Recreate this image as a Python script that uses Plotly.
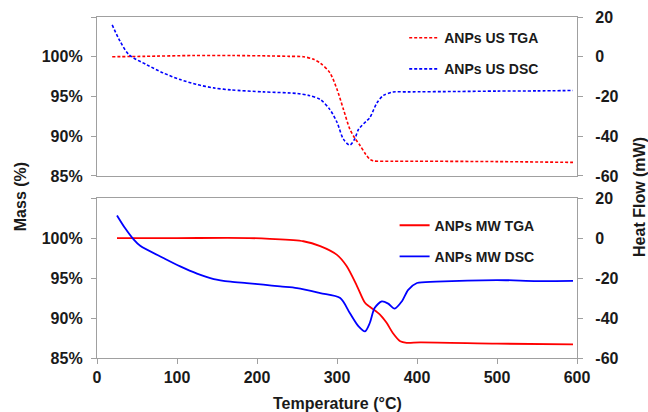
import plotly.graph_objects as go

# ---- data ----
us_tga_T = [19, 60, 120, 170, 216, 240, 258, 270, 279, 291, 300, 308, 316, 322, 329, 336, 341, 345, 370, 400, 500, 595]
us_tga_m = [100.0, 100.05, 100.15, 100.15, 100.1, 100.05, 100.0, 99.7, 99.2, 98.0, 95.9, 93.4, 90.9, 89.8, 88.8, 87.7, 87.1, 86.9, 86.85, 86.85, 86.8, 86.7]

us_dsc_T = [19, 29, 40, 62, 83, 104, 125, 146, 167, 208, 250, 265, 279, 291, 300, 308, 316, 322, 327, 337, 341, 350, 358, 370, 389, 450, 500, 550, 595]
us_dsc_h = [16, 7.7, 1, -4, -8.2, -11.5, -14, -15.7, -16.7, -17.7, -18.5, -19.5, -21.5, -26.5, -33, -41.5, -44.5, -41.5, -36.5, -32.3, -30.7, -23.2, -19.5, -17.8, -17.7, -17.5, -17.3, -17.2, -17.0]

mw_tga_T = [25, 100, 190, 216, 258, 279, 300, 312, 325, 335, 341, 354, 362, 370, 379, 387, 404, 500, 595]
mw_tga_m = [100.0, 100.0, 100.0, 99.9, 99.6, 99.0, 97.9, 96.5, 94.0, 91.9, 91.4, 90.4, 89.4, 88.1, 87.1, 86.9, 86.95, 86.8, 86.7]

mw_dsc_T = [25, 35, 46, 54, 83, 104, 125, 146, 167, 187, 208, 229, 250, 279, 304, 316, 327, 335, 341, 347, 356, 364, 372, 381, 389, 400, 424, 500, 550, 595]
mw_dsc_h = [11.3, 5, -0.8, -3.9, -10, -14.2, -17.8, -20.5, -21.8, -22.5, -23.3, -24.2, -25, -27.5, -30, -37.5, -44.2, -46.7, -42.5, -35, -31.7, -32.8, -35.3, -31.7, -25.9, -22.5, -21.8, -21.0, -21.5, -21.4]

mass_ticks = [85, 90, 95, 100, 105]
mass_labels = ["85%", "90%", "95%", "100%", ""]
heat_ticks = [-60, -40, -20, 0, 20]
temp_ticks = [0, 100, 200, 300, 400, 500, 600]

RED = "#FF0000"
BLUE = "#0000FF"
GRID = "#A0A0A0"
FONT = dict(family="Liberation Sans, Arial, sans-serif", size=16, color="#1A1A1A")

fig = go.Figure()
fig.add_trace(go.Scatter(x=us_tga_T, y=us_tga_m, mode="lines", name="<b>ANPs US TGA</b>",
                         line=dict(color=RED, width=1.6, dash="3px,2px", shape="spline", smoothing=0.8),
                         xaxis="x", yaxis="y", legend="legend", legendgroup="a"))
fig.add_trace(go.Scatter(x=us_dsc_T, y=us_dsc_h, mode="lines", name="<b>ANPs US DSC</b>",
                         line=dict(color=BLUE, width=1.6, dash="3px,2px", shape="spline", smoothing=0.8),
                         xaxis="x", yaxis="y2", legend="legend", legendgroup="b"))
fig.add_trace(go.Scatter(x=mw_tga_T, y=mw_tga_m, mode="lines", name="<b>ANPs MW TGA</b>",
                         line=dict(color=RED, width=1.8, shape="spline", smoothing=0.8),
                         xaxis="x2", yaxis="y3", legend="legend2", legendgroup="c"))
fig.add_trace(go.Scatter(x=mw_dsc_T, y=mw_dsc_h, mode="lines", name="<b>ANPs MW DSC</b>",
                         line=dict(color=BLUE, width=1.8, shape="spline", smoothing=0.8),
                         xaxis="x2", yaxis="y4", legend="legend2", legendgroup="d"))

top_dom = [0.534, 1.0]
bot_dom = [0.0, 0.469]

ax_common = dict(showline=True, linecolor=GRID, linewidth=1.3, showgrid=False, zeroline=False,
                 tickfont=dict(FONT, size=16), ticklen=5, tickcolor=GRID, automargin=False)

mass_ax = dict(ax_common, range=[85, 105], tickmode="array", tickvals=mass_ticks,
               ticktext=["<b>%s</b>" % t for t in mass_labels], ticks="outside", ticklabelstandoff=5)
heat_ax = dict(ax_common, range=[-60, 20], tickmode="array", tickvals=heat_ticks,
               ticktext=["<b>%d</b>" % t for t in heat_ticks], ticks="outside", side="right",
               ticklabelstandoff=9)

fig.update_layout(
    width=648, height=412,
    margin=dict(l=97, r=71, t=17, b=54, autoexpand=False),
    paper_bgcolor="white", plot_bgcolor="white",
    font=FONT,
    xaxis=dict(ax_common, domain=[0, 1], anchor="y", range=[0, 600], showticklabels=False,
               ticks="", mirror=True),
    xaxis2=dict(ax_common, domain=[0, 1], anchor="y3", range=[0, 600], tickmode="array",
                tickvals=temp_ticks, ticktext=["<b>%d</b>" % t for t in temp_ticks],
                ticks="outside", mirror=True),
    yaxis=dict(mass_ax, domain=top_dom, anchor="x"),
    yaxis2=dict(heat_ax, domain=top_dom, anchor="x", overlaying="y"),
    yaxis3=dict(mass_ax, domain=bot_dom, anchor="x2"),
    yaxis4=dict(heat_ax, domain=bot_dom, anchor="x2", overlaying="y3"),
    legend=dict(x=0.64, y=0.985, xanchor="left", yanchor="top", bgcolor="rgba(0,0,0,0)",
                font=dict(FONT, size=14), tracegroupgap=10, itemwidth=30),
    legend2=dict(x=0.62, y=0.435, xanchor="left", yanchor="top", bgcolor="rgba(0,0,0,0)",
                 font=dict(FONT, size=14), tracegroupgap=10, itemwidth=30),
    annotations=[
        dict(text="<b>Mass (%)</b>", xref="paper", yref="paper", x=-0.16, y=0.472,
             xanchor="center", yanchor="middle",
             textangle=-90, showarrow=False, font=dict(FONT, size=16)),
        dict(text="<b>Heat Flow (mW)</b>", xref="paper", yref="paper", x=1.129, y=0.472,
             xanchor="center", yanchor="middle",
             textangle=-90, showarrow=False, font=dict(FONT, size=16)),
        dict(text="<b>Temperature (°C)</b>", xref="paper", yref="paper", x=0.5, y=-0.132,
             xanchor="center", yanchor="middle", showarrow=False, font=dict(FONT, size=16)),
    ],
)

fig.write_html("out.html")
